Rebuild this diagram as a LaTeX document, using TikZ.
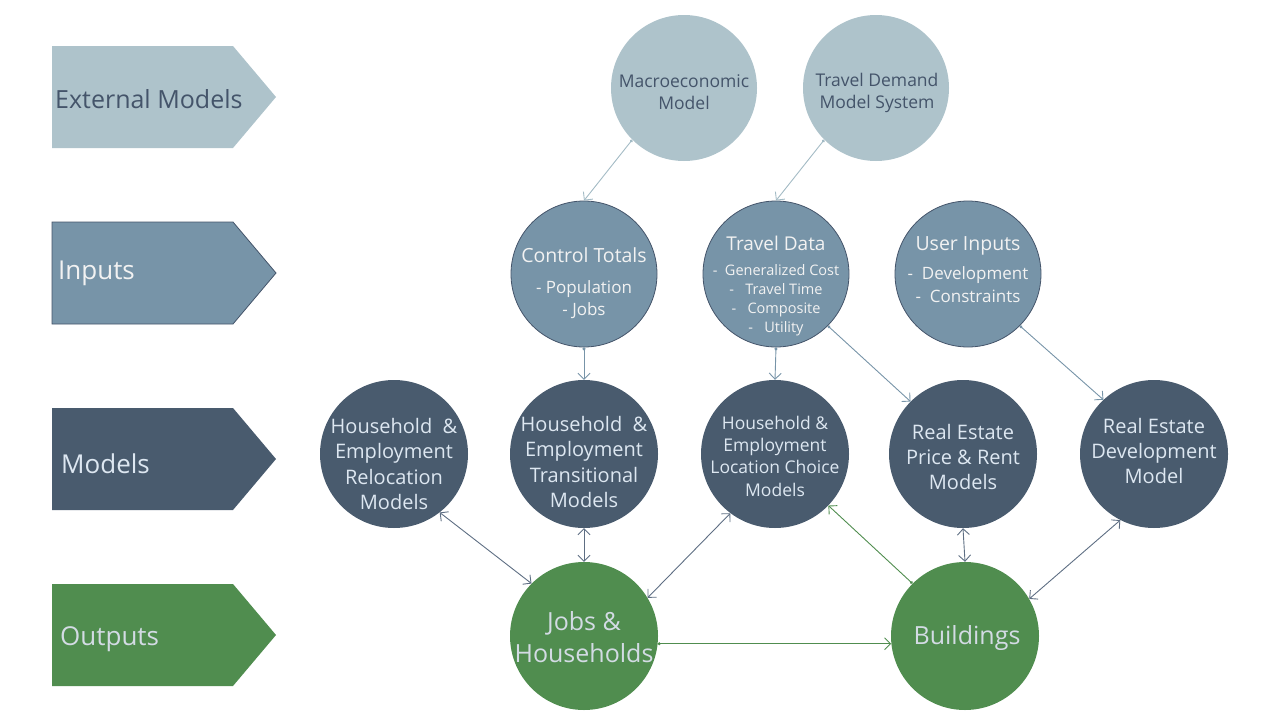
\documentclass[tikz,border=0pt]{standalone}
\usepackage{fontspec}
\setmainfont{Open Sans}
\usetikzlibrary{arrows.meta}
\definecolor{extfill}{HTML}{AEC3CB}
\definecolor{infill}{HTML}{7794A8}
\definecolor{modfill}{HTML}{495B6E}
\definecolor{outfill}{HTML}{508D4F}
\definecolor{darktext}{HTML}{44546A}
\definecolor{lighttext}{HTML}{F2F2F2}
\definecolor{modtext}{HTML}{DDE7F1}
\definecolor{outtext}{HTML}{D3DBE4}
\definecolor{extline}{HTML}{A3BBC5}
\definecolor{inline}{HTML}{7794A8}
\definecolor{modline}{HTML}{5E6E83}
\tikzset{
  bubble/.style={circle, inner sep=0pt, minimum size=146pt},
  extc/.style={bubble, fill=extfill},
  inc/.style={bubble, fill=infill, draw=darktext, line width=0.8pt},
  modc/.style={bubble, fill=modfill, minimum size=148pt},
  outc/.style={bubble, fill=outfill, minimum size=148pt},
  txt/.style={align=center, inner sep=0pt},
  barb/.tip={Straight Barb[length=6pt,width=12pt]},
  dot/.tip={Circle[length=3pt]},
  conn/.style={line width=0.9pt, dot-barb},
  conn2/.style={line width=0.9pt, barb-barb},
}
\begin{document}
\begin{tikzpicture}[x=1pt,y=-1pt]
\useasboundingbox (0,0) rectangle (1280,720);

% left band shapes
\fill[extfill] (52,46) -- (233,46) -- (276,97) -- (233,148) -- (52,148) -- cycle;
\filldraw[fill=infill, draw=darktext, line width=0.8pt] (52,222) -- (233,222) -- (276,273) -- (233,324) -- (52,324) -- cycle;
\fill[modfill] (52,408) -- (233,408) -- (276,459) -- (233,510) -- (52,510) -- cycle;
\fill[outfill] (52,584) -- (233,584) -- (276,635) -- (233,686) -- (52,686) -- cycle;

\node[txt, anchor=west, text=darktext, font=\fontsize{25}{30}\selectfont] (lblExt) at (55,99) {External Models};
\node[txt, anchor=west, text=lighttext, font=\fontsize{26}{30}\selectfont] (lblIn) at (58,273) {Inputs};
\node[txt, anchor=west, text=modtext, font=\fontsize{26}{30}\selectfont] (lblMod) at (61,464) {Models};
\node[txt, anchor=west, text=outtext, font=\fontsize{26}{30}\selectfont] (lblOut) at (60,639) {Outputs};

% circles
\node[extc] (macro) at (684,88) {};
\node[extc] (tdm) at (876,88) {};
\node[inc] (ctrl) at (584,274) {};
\node[inc] (td) at (776,274) {};
\node[inc] (ui) at (968,274) {};
\node[modc] (reloc) at (394,454) {};
\node[modc] (trans) at (584,454) {};
\node[modc] (lc) at (775,454) {};
\node[modc] (pr) at (963,454) {};
\node[modc] (dev) at (1154,454) {};
\node[outc] (jobs) at (584,636) {};
\node[outc] (bld) at (965,636) {};

% connectors
\draw[conn, extline] (macro.225) -- (ctrl.north);
\draw[conn, extline] (tdm.225) -- (td.north);
\draw[conn, inline] (ctrl.south) -- (trans.north);
\draw[conn, inline] (td.south) -- (lc.north);
\draw[conn, inline] (td.315) -- (pr.135);
\draw[conn, inline] (ui.315) -- (dev.133);
\draw[conn2, modline] (reloc.-52) -- (jobs.135);
\draw[conn2, modline] (trans.south) -- (jobs.north);
\draw[conn2, modline] (lc.233) -- (jobs.31);
\draw[conn2, modline] (pr.south) -- (bld.north);
\draw[conn2, modline] (dev.243) -- (bld.30);
\draw[conn, outfill] (bld.135) -- (lc.316);
\draw[conn, outfill] (jobs.-6) -- (bld.186);

% texts
\node[txt, text=darktext, font=\fontsize{17.5}{22}\selectfont] (macroT) at (684,92) {Macroeconomic\\Model};
\node[txt, text=darktext, font=\fontsize{17.5}{22}\selectfont] (tdmT) at (877,93) {Travel Demand\\Model System};
\node[txt, text=lighttext, font=\fontsize{17}{22}\selectfont] (ctrlT) at (584,283) {{\fontsize{19.5}{22}\selectfont Control Totals}\\[9pt]- Population\\- Jobs};
\node[txt, text=lighttext, font=\fontsize{14.5}{19}\selectfont] (tdT) at (776,286) {{\fontsize{19}{19}\selectfont Travel Data}\\[6pt]-\ \ Generalized Cost\\-\ \ \ Travel Time\\-\ \ \ Composite\\-\ \ \ Utility};
\node[txt, text=lighttext, font=\fontsize{17}{23}\selectfont] (uiT) at (968,270) {{\fontsize{19.5}{23}\selectfont User Inputs}\\[6pt]-\ \ Development\\-\ \ Constraints};
\node[txt, text=modtext, font=\fontsize{20}{25.3}\selectfont] (relocT) at (394,464) {Household\ \ \&\\Employment\\Relocation\\Models};
\node[txt, text=modtext, font=\fontsize{20}{25.3}\selectfont] (transT) at (584,462) {Household\ \ \&\\Employment\\Transitional\\Models};
\node[txt, text=modtext, font=\fontsize{17.5}{22.3}\selectfont] (lcT) at (775,456) {Household \&\\Employment\\Location Choice\\Models};
\node[txt, text=modtext, font=\fontsize{20}{25}\selectfont] (prT) at (963,457) {Real Estate\\Price \& Rent\\Models};
\node[txt, text=modtext, font=\fontsize{20}{25}\selectfont] (devT) at (1154,451) {Real Estate\\Development\\Model};
\node[txt, text=outtext, font=\fontsize{25}{32}\selectfont] (jobsT) at (584,637) {Jobs \&\\Households};
\node[txt, text=outtext, font=\fontsize{25}{32}\selectfont] (bldT) at (967,638) {Buildings};
\end{tikzpicture}
\end{document}
